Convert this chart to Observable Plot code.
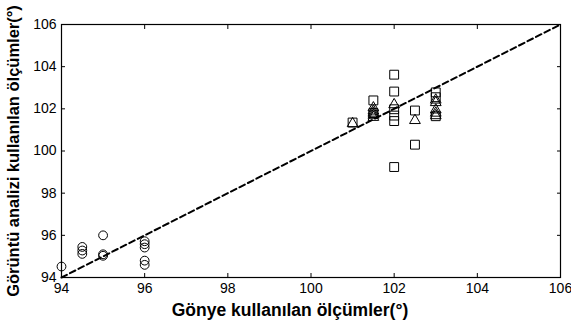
<!DOCTYPE html>
<html>
<head>
<meta charset="utf-8">
<script src="https://cdn.jsdelivr.net/npm/d3@7"></script>
<script src="https://cdn.jsdelivr.net/npm/@observablehq/plot@0.6"></script>
<style>
  html, body { margin: 0; padding: 0; background: #fff; }
  svg { font-family: "Liberation Sans", Arial, sans-serif; }
</style>
</head>
<body>
<div id="chart"></div>
<script>
// Group 1 (circles)
const circleX = [94, 94.5, 94.5, 94.5, 95, 95, 95, 96, 96, 96, 96, 96];
const circleY = [94.52, 95.45, 95.28, 95.12, 96.0, 95.1, 95.03, 95.72, 95.58, 95.42, 94.8, 94.6];
// Group 2 (squares)
const squareX = [101, 101.5, 101.5, 102, 102, 102, 102, 102, 102, 102.5, 102.5, 103, 103, 103];
const squareY = [101.35, 102.4, 101.8, 103.62, 102.82, 101.98, 101.68, 101.42, 99.24, 101.92, 100.3, 102.78, 102.55, 101.65];
// Group 3 (triangles)
const triX = [101, 101.5, 101.5, 101.5, 101.5, 101.5, 102, 102.5, 103, 103, 103, 103, 103];
const triY = [101.3, 102.05, 101.9, 101.8, 101.7, 101.6, 102.2, 101.45, 102.42, 102.3, 101.95, 101.8, 101.68];
// Reference line ends
const lineX = [94, 106];
const lineY = [94, 106];
const ticks = [94, 96, 98, 100, 102, 104, 106];
const xTitle = "Gönye kullanılan ölçümler(°)";
const yTitle = "Görüntü analizi kullanılan ölçümler(°)";

const circles = circleX.map((x, i) => ({x, y: circleY[i]}));
const squares = squareX.map((x, i) => ({x, y: squareY[i]}));
const tris = triX.map((x, i) => ({x, y: triY[i]}));
const line = lineX.map((x, i) => ({x, y: lineY[i]}));

const chart = Plot.plot({
  width: 571,
  height: 330,
  marginLeft: 61,
  marginRight: 11,
  marginTop: 24,
  marginBottom: 53,
  style: {fontFamily: "'Liberation Sans', Arial, sans-serif", fontSize: "14px", color: "#000", background: "#fff"},
  x: {domain: [94, 106]},
  y: {domain: [94, 106]},
  marks: [
    Plot.line(line, {x: "x", y: "y", stroke: "#000", strokeWidth: 2, strokeDasharray: "6,3.5"}),
    Plot.dot(circles, {x: "x", y: "y", symbol: "circle", r: 4.4, stroke: "#000", strokeWidth: 1, fill: "none"}),
    Plot.dot(squares, {x: "x", y: "y", symbol: "square", r: 5, stroke: "#000", strokeWidth: 1, fill: "none"}),
    Plot.dot(tris, {x: "x", y: "y", symbol: "triangle", r: 4, stroke: "#000", strokeWidth: 1, fill: "none"}),
    Plot.axisX(ticks, {anchor: "bottom", tickSize: 0, tickPadding: 6, label: null, fontSize: 14, fill: "#000"}),
    Plot.axisY(ticks, {anchor: "left", tickSize: 0, tickPadding: 5, label: null, fontSize: 14, fill: "#000"}),
    Plot.axisX(ticks, {anchor: "bottom", tickSize: 4, dy: -4, tickFormat: () => "", label: null, stroke: "#000"}),
    Plot.axisX(ticks, {anchor: "top", tickSize: 4, dy: 4, tickFormat: () => "", label: null, stroke: "#000"}),
    Plot.axisY(ticks, {anchor: "left", tickSize: 4, dx: 4, tickFormat: () => "", label: null, stroke: "#000"}),
    Plot.axisY(ticks, {anchor: "right", tickSize: 4, dx: -4, tickFormat: () => "", label: null, stroke: "#000"}),
    Plot.frame({stroke: "#000", strokeWidth: 1.2}),
    Plot.text([xTitle], {text: d => d, frameAnchor: "bottom", dx: -21, dy: 38, fontSize: 17.5, fontWeight: "bold", fill: "#000"}),
    Plot.text([yTitle], {text: d => d, frameAnchor: "left", textAnchor: "middle", dx: -48, rotate: -90, fontSize: 16.5, fontWeight: "bold", fill: "#000"})
  ]
});
document.getElementById("chart").appendChild(chart);
</script>
</body>
</html>
